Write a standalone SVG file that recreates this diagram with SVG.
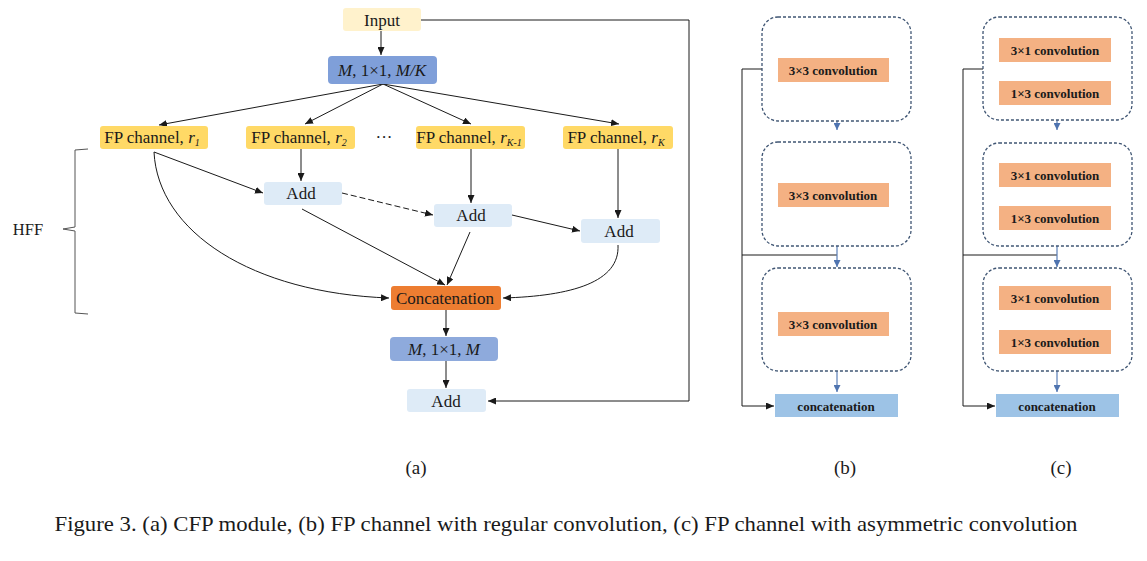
<svg xmlns="http://www.w3.org/2000/svg" width="1147" height="561" viewBox="0 0 1147 561">
<style>
.t{font-family:"Liberation Serif","Times New Roman",serif;fill:#1a1a1a;text-anchor:middle}
.a{font-size:17px}
.i{font-style:italic}
.b{font-size:13px;font-weight:bold}
.ln{fill:none;stroke:#1a1a1a;stroke-width:1}
.blu{fill:none;stroke:#5a7fb8;stroke-width:1.2}
.dbox{fill:#fff;stroke:#3f5573;stroke-width:1.3;stroke-dasharray:3 2}
.conv{fill:#f4b183}
.cat{fill:#9dc3e6}
</style>
<defs>
<marker id="ah" markerWidth="9" markerHeight="7" refX="8" refY="3.5" orient="auto" markerUnits="userSpaceOnUse">
<path d="M0,0 L8,3.5 L0,7 z" fill="#1a1a1a"/>
</marker>
<marker id="bh" markerWidth="8" markerHeight="7" refX="7" refY="3.5" orient="auto" markerUnits="userSpaceOnUse">
<path d="M0,0 L7,3.5 L0,7 z" fill="#4f74b0"/>
</marker>
</defs>
<rect width="1147" height="561" fill="#fff"/>

<!-- (a) connectors -->
<g id="connectors-a">
<path class="ln" d="M381,31 L381,55" marker-end="url(#ah)"/>
<path class="ln" d="M383,84 L159,125" marker-end="url(#ah)"/>
<path class="ln" d="M383,84 L305,124" marker-end="url(#ah)"/>
<path class="ln" d="M383,84 L471,124" marker-end="url(#ah)"/>
<path class="ln" d="M383,84 L619,124" marker-end="url(#ah)"/>
<path class="ln" d="M301,149 L301,181" marker-end="url(#ah)"/>
<path class="ln" d="M471,149 L471,203" marker-end="url(#ah)"/>
<path class="ln" d="M618,149 L618,218" marker-end="url(#ah)"/>
<path class="ln" d="M154,152 L263,193" marker-end="url(#ah)"/>
<path class="ln" d="M342,193 L433,215" stroke-dasharray="6 3" marker-end="url(#ah)"/>
<path class="ln" d="M512,215 L580,231" marker-end="url(#ah)"/>
<path class="ln" d="M302,209 L445,285" marker-end="url(#ah)"/>
<path class="ln" d="M470,232 L447,285" marker-end="url(#ah)"/>
<path class="ln" d="M154,152 C158,232 252,293 389,298" marker-end="url(#ah)"/>
<path class="ln" d="M618,245 C620,282 572,296 503,298" marker-end="url(#ah)"/>
<path class="ln" d="M446,310 L446,336" marker-end="url(#ah)"/>
<path class="ln" d="M446,361 L446,388" marker-end="url(#ah)"/>
<path class="ln" d="M421,20 L689,20 L689,401 L488,401" marker-end="url(#ah)"/>
</g>

<!-- (a) nodes -->
<g id="input"><rect x="343" y="8" width="78" height="23" rx="3" fill="#fff2cc"/><text class="t a" x="382" y="26">Input</text></g>
<g id="conv-in"><rect x="328" y="56" width="109" height="28" rx="4" fill="#7f9fd9"/><text class="t a" x="382" y="76"><tspan class="i">M</tspan>, 1×1, <tspan class="i">M/K</tspan></text></g>
<g id="fp1"><rect x="100" y="126" width="108" height="23" rx="3" fill="#ffd966"/><text class="t a" x="152" y="143">FP channel, <tspan class="i">r</tspan><tspan class="i" font-size="10" dy="3">1</tspan></text></g>
<g id="fp2"><rect x="246" y="126" width="109" height="23" rx="3" fill="#ffd966"/><text class="t a" x="299" y="143">FP channel, <tspan class="i">r</tspan><tspan class="i" font-size="10" dy="3">2</tspan></text></g>
<g id="dots"><text class="t a" x="384" y="143">···</text></g>
<g id="fpk1"><rect x="416" y="126" width="109" height="23" rx="3" fill="#ffd966"/><text class="t a" x="469" y="143">FP channel, <tspan class="i">r</tspan><tspan class="i" font-size="10" dy="3">K-1</tspan></text></g>
<g id="fpk"><rect x="563" y="126" width="110" height="23" rx="3" fill="#ffd966"/><text class="t a" x="616" y="143">FP channel, <tspan class="i">r</tspan><tspan class="i" font-size="10" dy="3">K</tspan></text></g>
<g id="add1"><rect x="264" y="182" width="78" height="23" rx="3" fill="#deebf7"/><text class="t a" x="301" y="199">Add</text></g>
<g id="add2"><rect x="434" y="204" width="78" height="23" rx="3" fill="#deebf7"/><text class="t a" x="471" y="221">Add</text></g>
<g id="add3"><rect x="581" y="219" width="79" height="24" rx="3" fill="#deebf7"/><text class="t a" x="619" y="237">Add</text></g>
<g id="concat"><rect x="391" y="286" width="110" height="24" rx="3" fill="#ed7d31"/><text class="t a" x="445" y="304">Concatenation</text></g>
<g id="conv-out"><rect x="390" y="337" width="108" height="24" rx="4" fill="#8eaadc"/><text class="t a" x="444" y="355"><tspan class="i">M</tspan>, 1×1, <tspan class="i">M</tspan></text></g>
<g id="add-out"><rect x="407" y="389" width="79" height="23" rx="3" fill="#deebf7"/><text class="t a" x="446" y="407">Add</text></g>
<g id="hff">
<path d="M88,149 L75,150 L75,227 L63,229 L75,231 L75,313 L88,314" fill="none" stroke="#555" stroke-width="1"/>
<text class="t" x="28" y="235" font-size="16.5">HFF</text>
</g>

<!-- (b) -->
<g id="connectors-b">
<path class="ln" d="M762,69 L742,69 L742,406 L774,406" stroke-width="1.3" marker-end="url(#ah)"/>
<path class="ln" d="M742,255 L837,255" stroke-width="1.3"/>
<path class="blu" d="M837,121 L837,130" marker-end="url(#bh)"/>
<path class="blu" d="M837,246 L837,267" marker-end="url(#bh)"/>
<path class="blu" d="M837,371 L837,392" marker-end="url(#bh)"/>
</g>
<g id="b-block1"><rect class="dbox" x="762" y="17" width="149" height="104" rx="16"/><rect class="conv" x="778" y="58" width="111" height="24"/><text class="t b" x="833" y="74.5">3×3 convolution</text></g>
<g id="b-block2"><rect class="dbox" x="762" y="142" width="149" height="104" rx="16"/><rect class="conv" x="778" y="183" width="111" height="24"/><text class="t b" x="833" y="199.5">3×3 convolution</text></g>
<g id="b-block3"><rect class="dbox" x="762" y="268" width="149" height="103" rx="16"/><rect class="conv" x="778" y="312" width="111" height="24"/><text class="t b" x="833" y="328.5">3×3 convolution</text></g>
<g id="b-concat"><rect class="cat" x="775" y="394" width="123" height="23"/><text class="t b" x="836" y="410.5" font-size="14px">concatenation</text></g>

<!-- (c) -->
<g id="connectors-c">
<path class="ln" d="M983,69 L963,69 L963,406 L995,406" stroke-width="1.3" marker-end="url(#ah)"/>
<path class="ln" d="M963,255 L1057,255" stroke-width="1.3"/>
<path class="blu" d="M1057,120 L1057,130" marker-end="url(#bh)"/>
<path class="blu" d="M1057,246 L1057,267" marker-end="url(#bh)"/>
<path class="blu" d="M1057,371 L1057,392" marker-end="url(#bh)"/>
<path class="blu" d="M1055,62 L1055,80" stroke="#9ab0d4" stroke-dasharray="2 1.5" marker-end="url(#bh)"/>
<path class="blu" d="M1055,187 L1055,205" stroke="#9ab0d4" stroke-dasharray="2 1.5" marker-end="url(#bh)"/>
<path class="blu" d="M1055,310 L1055,329" stroke="#9ab0d4" stroke-dasharray="2 1.5" marker-end="url(#bh)"/>
</g>
<g id="c-block1"><rect class="dbox" x="983" y="17" width="149" height="103" rx="16"/>
<rect class="conv" x="999" y="38" width="112" height="24"/><text class="t b" x="1055" y="54.5">3×1 convolution</text>
<rect class="conv" x="999" y="81" width="112" height="24"/><text class="t b" x="1055" y="97.5">1×3 convolution</text></g>
<g id="c-block2"><rect class="dbox" x="983" y="143" width="149" height="103" rx="16"/>
<rect class="conv" x="999" y="163" width="112" height="24"/><text class="t b" x="1055" y="179.5">3×1 convolution</text>
<rect class="conv" x="999" y="206" width="112" height="24"/><text class="t b" x="1055" y="222.5">1×3 convolution</text></g>
<g id="c-block3"><rect class="dbox" x="983" y="268" width="149" height="103" rx="16"/>
<rect class="conv" x="999" y="286" width="112" height="24"/><text class="t b" x="1055" y="302.5">3×1 convolution</text>
<rect class="conv" x="999" y="330" width="112" height="24"/><text class="t b" x="1055" y="346.5">1×3 convolution</text></g>
<g id="c-concat"><rect class="cat" x="996" y="394" width="123" height="23"/><text class="t b" x="1057" y="410.5" font-size="14px">concatenation</text></g>

<!-- labels -->
<text class="t" x="416" y="474" font-size="19">(a)</text>
<text class="t" x="845" y="474" font-size="19">(b)</text>
<text class="t" x="1061" y="474" font-size="19">(c)</text>
<text class="t" x="566" y="531" font-size="21" textLength="1023" lengthAdjust="spacingAndGlyphs">Figure 3. (a) CFP module, (b) FP channel with regular convolution, (c) FP channel with asymmetric convolution</text>
</svg>
